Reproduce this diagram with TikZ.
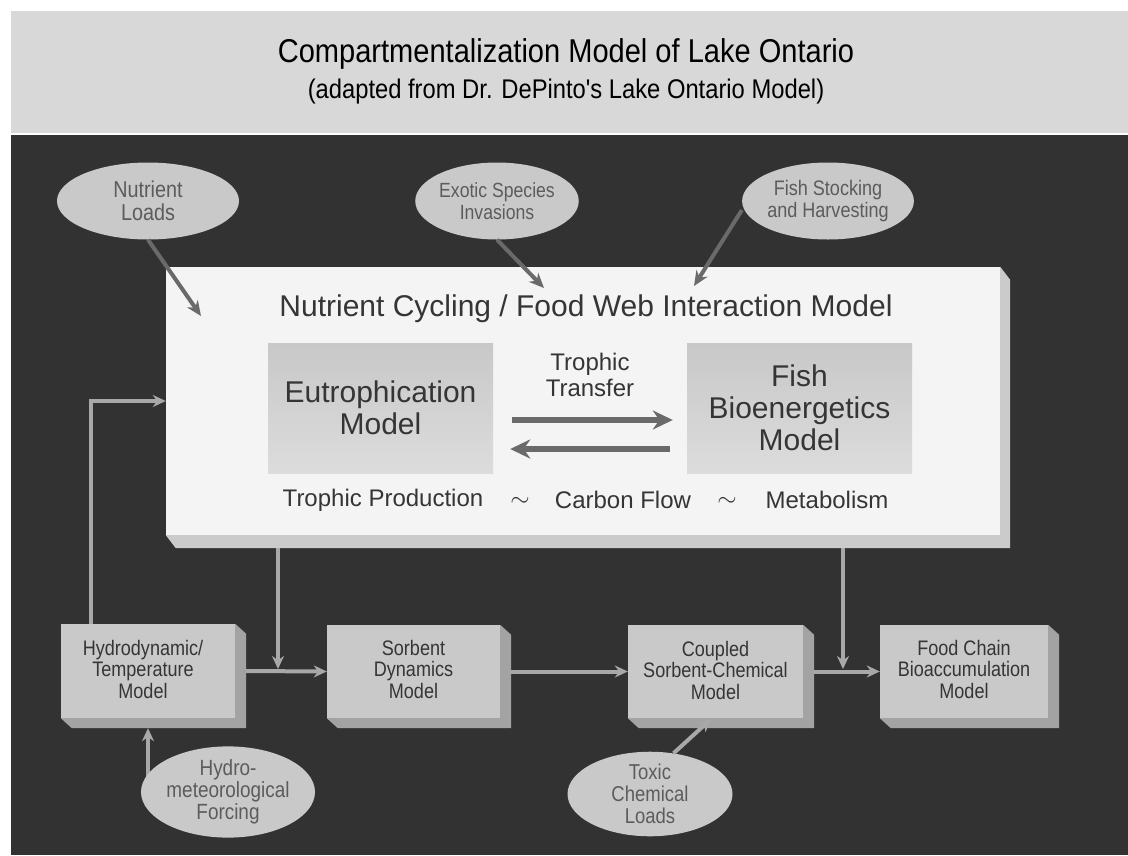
\documentclass[tikz,border=0pt]{standalone}
\usepackage{fontspec}
\setmainfont{Liberation Sans}
\newfontfamily\cond{Liberation Sans}[FakeStretch=0.86]
\newfontfamily\condh{Liberation Sans}[FakeStretch=0.88]
\usetikzlibrary{arrows.meta,shapes.geometric,calc}
\pgfdeclarelayer{back}
\pgfdeclarelayer{conn}
\pgfsetlayers{back,conn,main}
\definecolor{headgray}{HTML}{D8D8D8}
\definecolor{darkbg}{HTML}{323232}
\definecolor{boxfront}{HTML}{F4F4F4}
\definecolor{mainbevel}{HTML}{CBCBCB}
\definecolor{innertop}{HTML}{C8C8C8}
\definecolor{innerbot}{HTML}{DCDCDC}
\definecolor{modfill}{HTML}{C9C9C9}
\definecolor{modbevel}{HTML}{A3A3A3}
\definecolor{ellfill}{HTML}{C9C9C9}
\definecolor{elltext}{HTML}{5C5C5C}
\definecolor{txtdark}{HTML}{353535}
\definecolor{toparr}{HTML}{6A6A6A}
\definecolor{botarr}{HTML}{A8A8A8}
\newcommand\bevel[4]{%
  \fill[#4] (#1.north east) -- ++(#2,#3) -- ($(#1.south east)+(#2,#3)$) --
    ($(#1.south west)+(#2,#3)$) -- (#1.south west) -- (#1.south east) -- cycle;}
\newcommand\fsz[2]{\fontsize{#1}{#2}\selectfont}
\begin{document}
\begin{tikzpicture}[x=1pt,y=-1pt,
  ellnode/.style={ellipse,fill=ellfill,inner sep=0pt,text=elltext,align=center,
     font=\cond\fsz{21}{22}},
  modnode/.style={rectangle,fill=modfill,inner sep=0pt,text=txtdark,align=center,
     font=\cond\fsz{21}{21.5}},
  modtext/.style={inner sep=0pt,text=txtdark,align=center,font=\cond\fsz{21}{21.5}},
  innerbox/.style={rectangle,inner sep=0pt,minimum width=225pt,minimum height=130pt,
     top color=innertop,middle color=innertop,bottom color=innerbot,text=txtdark,align=center},
  lbl/.style={inner sep=0pt,text=txtdark,align=center},
  toparrow/.style={draw=toparr,line width=4pt,-{Stealth[length=15pt,width=13pt]}},
  troparrow/.style={draw=toparr,line width=6pt,-{Stealth[length=20pt,width=19pt]}},
  botarrow/.style={draw=botarr,line width=4pt,-{Stealth[length=13pt,width=12pt]}}]
\useasboundingbox (0,0) rectangle (1128,855);
\begin{pgfonlayer}{back}
  \fill[white] (0,0) rectangle (1128,855);
  \fill[headgray] (11,11) rectangle (1128,133);
  \fill[darkbg] (11,135) rectangle (1128,855);
\end{pgfonlayer}

% header
\node[inner sep=0pt,text=black,font=\condh\fsz{33}{36}] (title) at (566,54) {Compartmentalization Model of Lake Ontario};
\node[inner sep=0pt,text=black,font=\condh\fsz{27}{30}] (subtitle) at (566,92) {(adapted from Dr. DePinto's Lake Ontario Model)};

% main box
\node[rectangle,fill=boxfront,inner sep=0pt,minimum width=834pt,minimum height=268pt] (main) at (583,401) {};
\bevel{main}{10}{13}{mainbevel}
\node[lbl,font=\fsz{30}{32}] (mtitle) at (586,309) {Nutrient Cycling / Food Web Interaction Model};
\node[innerbox,font=\fsz{30}{32}] (eu) at (380.5,408) {Eutrophication\\Model};
\node[innerbox,font=\fsz{30}{32}] (fb) at (799.5,408) {Fish\\Bioenergetics\\Model};
\node[lbl,font=\fsz{24}{26}] (tt) at (590,375) {Trophic\\Transfer};
\draw[troparrow] ([shift={(19,12)}]eu.east) -- ([shift={(-14,12)}]fb.west);
\draw[troparrow] ([shift={(-17,41)}]fb.west) -- ([shift={(17,41)}]eu.east);
\node[lbl,font=\fsz{24}{26}] (tp) at (383,500) {Trophic Production};
\node[lbl,font=\fsz{24}{26}] (t1) at (520,502) {$\sim$};
\node[lbl,font=\fsz{24}{26}] (cf) at (623,500) {Carbon Flow};
\node[lbl,font=\fsz{24}{26}] (t2) at (727,502) {$\sim$};
\node[lbl,font=\fsz{24}{26}] (mb) at (827,500) {Metabolism};

% top ellipses
\node[ellnode,minimum width=182pt,minimum height=77pt,font=\cond\fsz{23}{23}] (nl) at (148,201) {Nutrient\\Loads};
\node[ellnode,minimum width=158pt,minimum height=77pt,font=\cond\fsz{20.5}{22}] (ex) at (497,201) {Exotic Species\\Invasions};
\node[ellnode,minimum width=157pt,minimum height=77pt] (fs) at (828,201) {Fish Stocking\\and Harvesting};
\coordinate (nle) at (201,316);
\coordinate (exe) at (544,288);
\coordinate (fse) at (694,286);
\draw[toparrow] (nl.south) -- (nle);
\draw[toparrow] (ex.south) -- (exe);
\draw[toparrow] ([yshift=-9pt]fs.west) -- (fse);

% bottom model boxes
\node[modnode,minimum width=174pt,minimum height=94pt] (hy) at (148,671) {};
\node[modnode,minimum width=173pt,minimum height=93pt] (so) at (413.5,671.5) {};
\node[modnode,minimum width=175pt,minimum height=93pt] (co) at (715.5,671.5) {};
\node[modnode,minimum width=168pt,minimum height=93pt] (fc) at (964,671.5) {};
\node[modtext] (hyt) at (143,669) {Hydrodynamic/\\Temperature\\Model};
\node[modtext] (sot) at (413.5,669) {Sorbent\\Dynamics\\Model};
\node[modtext] (cot) at (715.5,670) {Coupled\\Sorbent-Chemical\\Model};
\node[modtext] (fct) at (964,669) {Food Chain\\Bioaccumulation\\Model};
\bevel{hy}{11}{10}{modbevel}
\bevel{so}{11}{10}{modbevel}
\bevel{co}{11}{10}{modbevel}
\bevel{fc}{11}{10}{modbevel}

% bottom ellipses
\node[ellnode,minimum width=167pt,minimum height=75pt,font=\cond\fsz{22}{22}] (hm) at (228,792) {Hydro-\\meteorological\\Forcing};
\node[ellnode,minimum width=165pt,minimum height=75pt,font=\cond\fsz{21.5}{22}] (tc) at (650,794) {Toxic\\Chemical\\Loads};

% connectors
\coordinate (fbk) at (91,401);
\draw[botarrow] (hy.north -| fbk) -- (fbk) -- (fbk -| main.west);
\draw[botarrow] ([xshift=11pt]hy.east) -- (so.west);
\draw[botarrow] ([xshift=11pt]so.east) -- (co.west);
\draw[botarrow] ([xshift=11pt]co.east) -- (fc.west);
\coordinate (j1) at (278,669);
\coordinate (j2) at (843,669);
\begin{pgfonlayer}{conn}
  \draw[botarrow] (main.south -| j1) -- (j1);
  \draw[botarrow] (main.south -| j2) -- (j2);
  \coordinate (hmx) at (148,0);
  \draw[botarrow] (hm.center -| hmx) -- ([yshift=-10pt]hy.south -| hmx);
\end{pgfonlayer}
\coordinate (tce) at (711,719);
\draw[botarrow] (tc.60) -- (tce);
\end{tikzpicture}
\end{document}
